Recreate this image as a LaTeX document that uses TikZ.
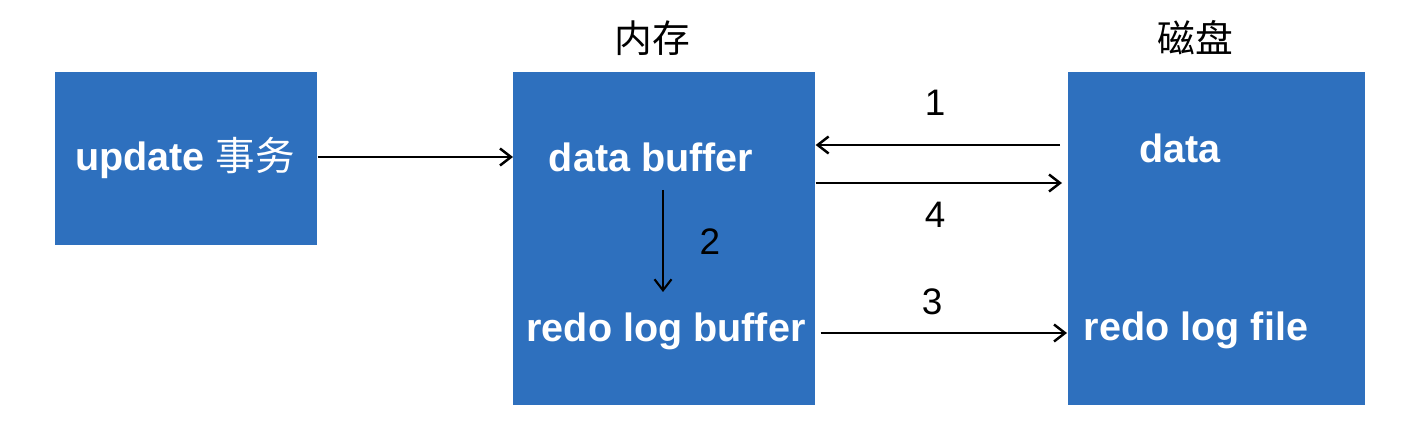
\documentclass[tikz,border=0pt]{standalone}
\usepackage{fontspec}
\setmainfont{Liberation Sans}
\newfontfamily\cjk{Noto Sans CJK SC}
\usepackage{xcolor}
\usetikzlibrary{arrows.meta,positioning,calc}
\definecolor{boxblue}{RGB}{46,112,190}

\begin{document}
\begin{tikzpicture}[
  x=0.02cm, y=-0.02cm,
  blk/.style={fill=boxblue, draw=none, inner sep=0pt, anchor=north west},
  lbl/.style={text=white, font=\fontsize{22.5}{26}\selectfont\bfseries, inner sep=0pt},
  num/.style={font=\fontsize{21}{24}\selectfont, inner sep=0pt},
  hd/.style={font=\fontsize{21.5}{24}\selectfont\cjk, inner sep=0pt},
  arr/.style={-{Straight Barb[length=2.2mm,width=3.4mm]}, line width=1.4pt, draw=black}]
\useasboundingbox (0,0) rectangle (1410,432);
% boxes
\node[blk, minimum width=5.24cm, minimum height=3.46cm] (upd) at (55,72) {};
\node[blk, minimum width=6.04cm, minimum height=6.66cm] (mem) at (513,72) {};
\node[blk, minimum width=5.94cm, minimum height=6.66cm] (disk) at (1068,72) {};
% headings
\node[hd] (memhd) at (652,38) {内存};
\node[hd] (diskhd) at (1195,38) {磁盘};
% texts inside
\node[lbl] (updtxt) at (185,158) {update {\mdseries\cjk 事务}};
\node[lbl] (databuf) at (651,157) {data buffer};
\node[lbl] (redobuf) at (666,331) {redo log buffer};
\node[lbl] (diskdata) at (1180,148) {data};
\node[lbl] (redofile) at (1196,330) {redo log file};
% step numbers
\node[num] (n1) at (935,103) {1};
\node[num] (n2) at (710,242) {2};
\node[num] (n3) at (932,302) {3};
\node[num] (n4) at (935,215) {4};
% arrows
\draw[arr] (upd.east |- databuf) -- (mem.west |- databuf);
\draw[arr] ($(disk.west |- databuf)+(-8,-12)$) -- ($(mem.east |- databuf)+(0,-12)$);
\draw[arr] ($(mem.east |- databuf)+(0,26)$) -- ($(disk.west |- databuf)+(-6,26)$);
\draw[arr, line width=1.2pt] ($(databuf)+(12,33)$) -- ($(redobuf)+(-3,-39)$);
\draw[arr] ($(mem.east |- redobuf)+(5,2)$) -- ($(disk.west |- redobuf)+(-1,2)$);
\end{tikzpicture}
\end{document}
